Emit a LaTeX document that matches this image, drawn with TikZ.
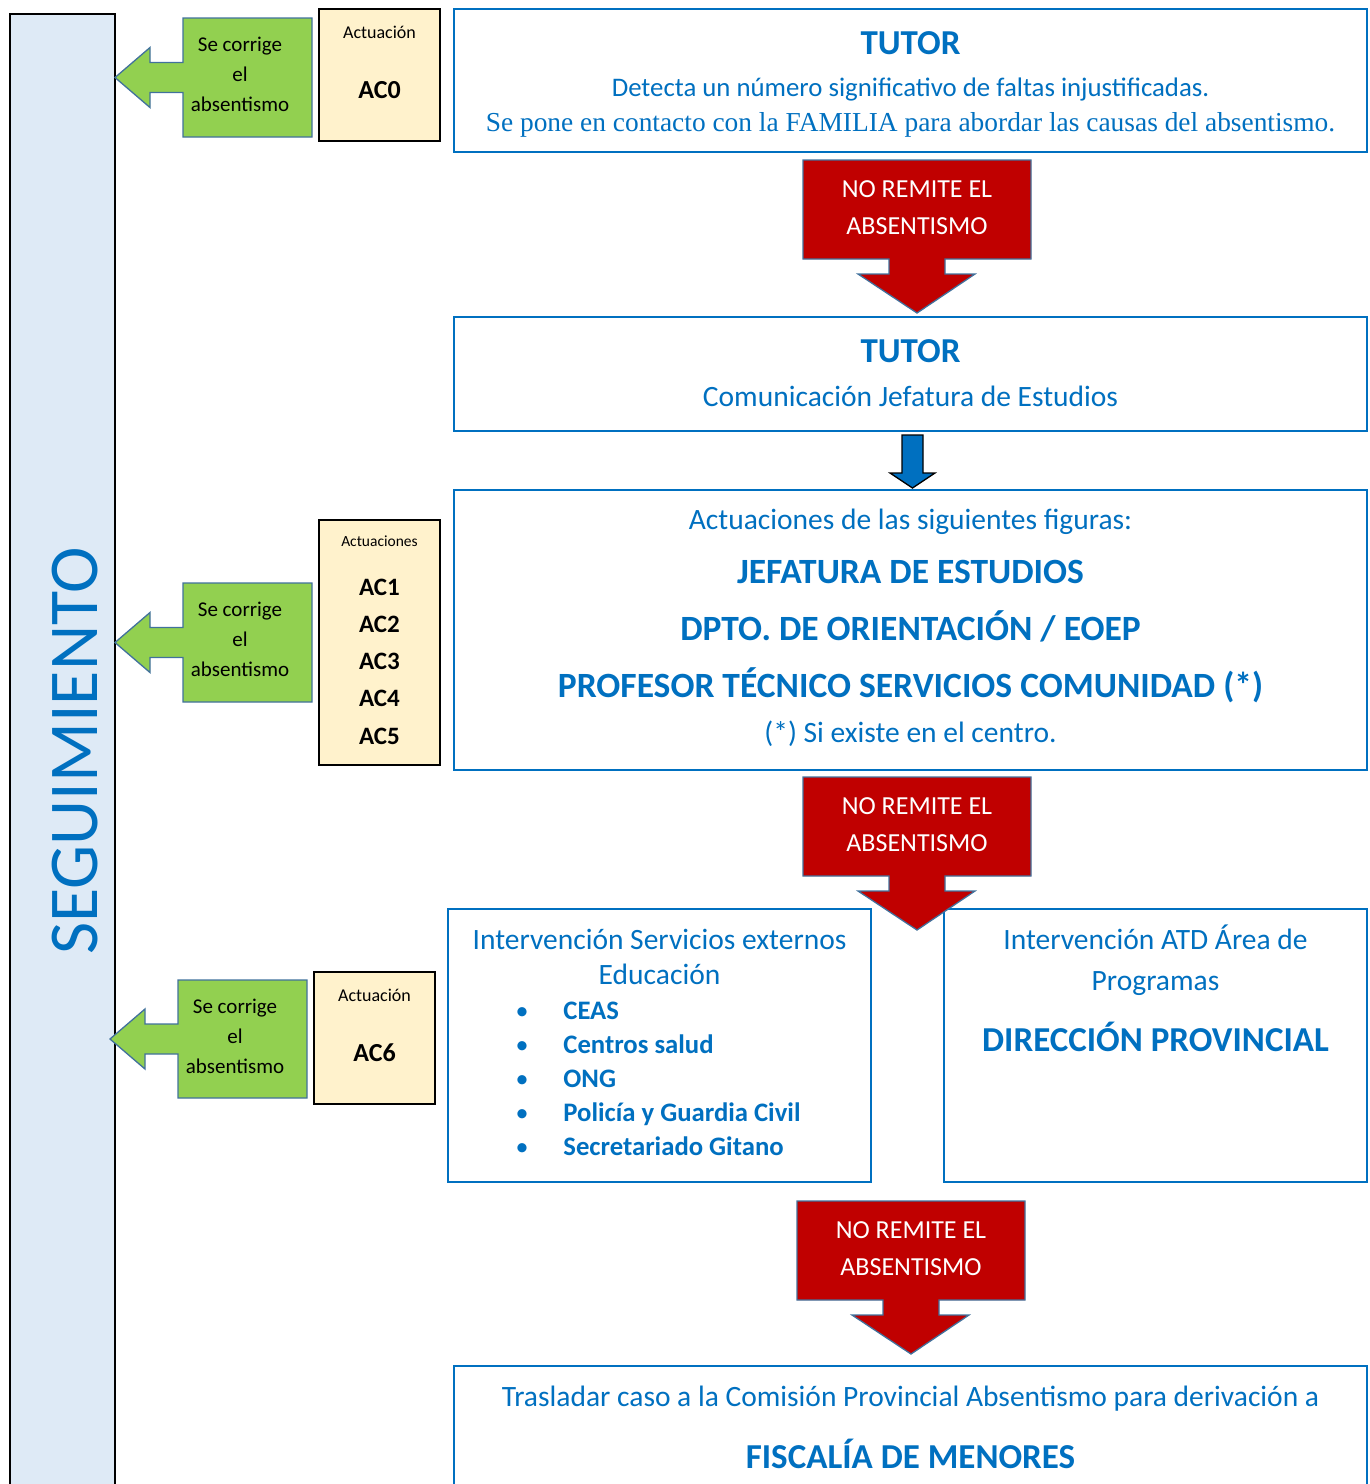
\documentclass[tikz,border=0pt]{standalone}
\usepackage{fontspec}
\setmainfont{Carlito}
\newfontfamily\cambria{Liberation Serif}
\usetikzlibrary{positioning}

\definecolor{azul}{HTML}{0070C0}
\definecolor{celeste}{HTML}{DEEAF6}
\definecolor{verde}{HTML}{92D050}
\definecolor{crema}{HTML}{FFF2CC}
\definecolor{rojo}{HTML}{C00000}
\definecolor{borde}{HTML}{41719C}

\newcommand{\tam}[2]{\fontsize{#1}{#2}\selectfont}

\tikzset{
  cajaazul/.style={draw=azul,line width=1.5pt,fill=white,inner sep=0pt},
  cajacrema/.style={draw=black,line width=1.5pt,fill=crema,inner sep=0pt},
  txt/.style={anchor=base,inner sep=0pt,text=azul},
  txtnegro/.style={anchor=base,inner sep=0pt,text=black},
  flechaverde/.style={draw=borde,line width=1.3pt,fill=verde,line join=miter},
  flecharoja/.style={draw=borde,line width=1.3pt,fill=rojo,line join=miter},
  verdetxt/.style={align=center,inner sep=0pt,font=\tam{21}{30}},
  rojotxt/.style={align=center,inner sep=0pt,text=white,font=\tam{26}{37}}
}

\begin{document}
\begin{tikzpicture}[x=1pt,y=-1pt,thick]
        \useasboundingbox (0,0) rectangle (1369,1484);

        % barra lateral
        \node[draw=black,line width=2pt,fill=celeste,minimum width=105pt,minimum height=1506pt,inner sep=0pt] (barra) at (62.5,767) {};
        \node[rotate=90,text=azul,font=\tam{70}{70},inner sep=0pt] (seg) at (75,751) {SEGUIMIENTO};

        % cajas principales
        \node[cajaazul,minimum width=913pt,minimum height=143pt] (tutorA) at (910.5,80.5) {};
        \node[cajaazul,minimum width=913pt,minimum height=114pt] (tutorB) at (910.5,374) {};
        \node[cajaazul,minimum width=913pt,minimum height=280pt] (figuras) at (910.5,630) {};
        \node[cajaazul,minimum width=423pt,minimum height=273pt] (externos) at (659.5,1045.5) {};
        \node[cajaazul,minimum width=423pt,minimum height=273pt] (atd) at (1155.5,1045.5) {};
        \node[cajaazul,minimum width=913pt,minimum height=154pt] (fiscalia) at (910.5,1443) {};

        % actuaciones
        \node[cajacrema,minimum width=121pt,minimum height=132pt] (act0) at (379.5,75) {};
        \node[cajacrema,minimum width=121pt,minimum height=245pt] (act15) at (379.5,642.5) {};
        \node[cajacrema,minimum width=121pt,minimum height=132pt] (act6) at (374.5,1038) {};

        \node[txtnegro,font=\tam{18}{18}] (lbl0) at (379.5,38) {Actuación};
        \node[txtnegro,font=\bfseries\tam{26}{26}] (ac0) at (379.5,98) {AC0};
        \node[txtnegro,font=\tam{15.5}{15.5}] (lbl15) at (379.5,546) {Actuaciones};
        \foreach \n in {1,...,5}
            \node[txtnegro,font=\bfseries\tam{25}{25}] (ac\n) at (379.5,{595+37.3*(\n-1)}) {AC\n};
        \node[txtnegro,font=\tam{18}{18}] (lbl6) at (374.5,1001) {Actuación};
        \node[txtnegro,font=\bfseries\tam{26}{26}] (ac6) at (374.5,1061) {AC6};

        % flechas verdes
        \foreach \xl/\yt/\yb/\xp [count=\i] in {183/18/137/115, 183/583/702/115, 178/980/1098/110} {
            \pgfmathsetmacro\ym{(\yt+\yb)/2}
            \draw[flechaverde] (\xl,\yt) -- (\xl+129,\yt) -- (\xl+129,\yb) -- (\xl,\yb)
                -- (\xl,\ym+15) -- (\xp+35,\ym+15) -- (\xp+35,\ym+30) -- (\xp,\ym)
                -- (\xp+35,\ym-30) -- (\xp+35,\ym-15) -- (\xl,\ym-15) -- cycle;
            \node[verdetxt] (corrige\i) at (\xl+57,\ym-3) {Se corrige\\el\\absentismo};
        }

        % textos tutor
        \node[txt,font=\bfseries\tam{35}{35}] (tA1) at (910.5,54) {TUTOR};
        \node[txt,font=\tam{26.8}{26.8}] (tA2) at (910.5,96) {Detecta un número significativo de faltas injustificadas.};
        \node[txt,font=\cambria\tam{27.4}{27.4}] (tA3) at (910.5,131) {Se pone en contacto con la FAMILIA para abordar las causas del absentismo.};
        \node[txt,font=\bfseries\tam{35}{35}] (tB1) at (910.5,362) {TUTOR};
        \node[txt,font=\tam{29.5}{29.5}] (tB2) at (910.5,406) {Comunicación Jefatura de Estudios};

        % figuras
        \node[txt,font=\tam{29.5}{29.5}] (f1) at (910.5,529) {Actuaciones de las siguientes figuras:};
        \node[txt,font=\bfseries\tam{35.5}{35.5}] (f2) at (910.5,583) {JEFATURA DE ESTUDIOS};
        \node[txt,font=\bfseries\tam{35.5}{35.5}] (f3) at (910.5,640) {DPTO. DE ORIENTACIÓN / EOEP};
        \node[txt,font=\bfseries\tam{35.5}{35.5}] (f4) at (910.5,697) {PROFESOR TÉCNICO SERVICIOS COMUNIDAD (*)};
        \node[txt,font=\tam{29.5}{29.5}] (f5) at (910.5,742) {(*) Si existe en el centro.};

        % servicios externos
        \node[txt,font=\tam{29.5}{29.5}] (e1) at (659.5,949) {Intervención Servicios externos};
        \node[txt,font=\tam{29.5}{29.5}] (e2) at (659.5,984) {Educación};
        \foreach \serv [count=\i] in {CEAS, Centros salud, ONG, Policía y Guardia Civil, Secretariado Gitano} {
            \node[txt,font=\tam{26}{26}] (punto\i) at (522,{1019+34*(\i-1)}) {•};
            \node[txt,anchor=base west,font=\bfseries\tam{26.7}{26.7}] (serv\i) at (563,{1019+34*(\i-1)}) {\serv};
        }

        % area de programas
        \node[txt,font=\tam{29.5}{29.5}] (d1) at (1155.5,949) {Intervención ATD Área de};
        \node[txt,font=\tam{29.5}{29.5}] (d2) at (1155.5,990) {Programas};
        \node[txt,font=\bfseries\tam{35}{35}] (d3) at (1155.5,1051) {DIRECCIÓN PROVINCIAL};

        % fiscalia
        \node[txt,font=\tam{29.5}{29.5}] (g1) at (910.5,1406) {Trasladar caso a la Comisión Provincial Absentismo para derivación a};
        \node[txt,font=\bfseries\tam{35}{35}] (g2) at (910.5,1468) {FISCALÍA DE MENORES};

        % flecha azul
        \draw[line width=1.3pt,fill=azul,line join=miter] (902,435) -- (923,435) -- (923,473) -- (935,473)
            -- (912.5,488) -- (890,473) -- (902,473) -- cycle;

        % flechas rojas
        \foreach \xl/\yt/\nom in {803/160/remA, 803/777/remB, 797/1201/remC} {
            \draw[flecharoja] (\xl,\yt) -- ++(228,0) -- ++(0,99) -- ++(-86,0) -- ++(0,15) -- ++(30,0)
                -- (\xl+114,\yt+153) -- (\xl+55,\yt+114) -- ++(31,0) -- ++(0,-15) -- (\xl,\yt+99) -- cycle;
            \node[rojotxt] (\nom) at (\xl+114,\yt+47.5) {NO REMITE EL\\ABSENTISMO};
        }
    \end{tikzpicture}
\end{document}
